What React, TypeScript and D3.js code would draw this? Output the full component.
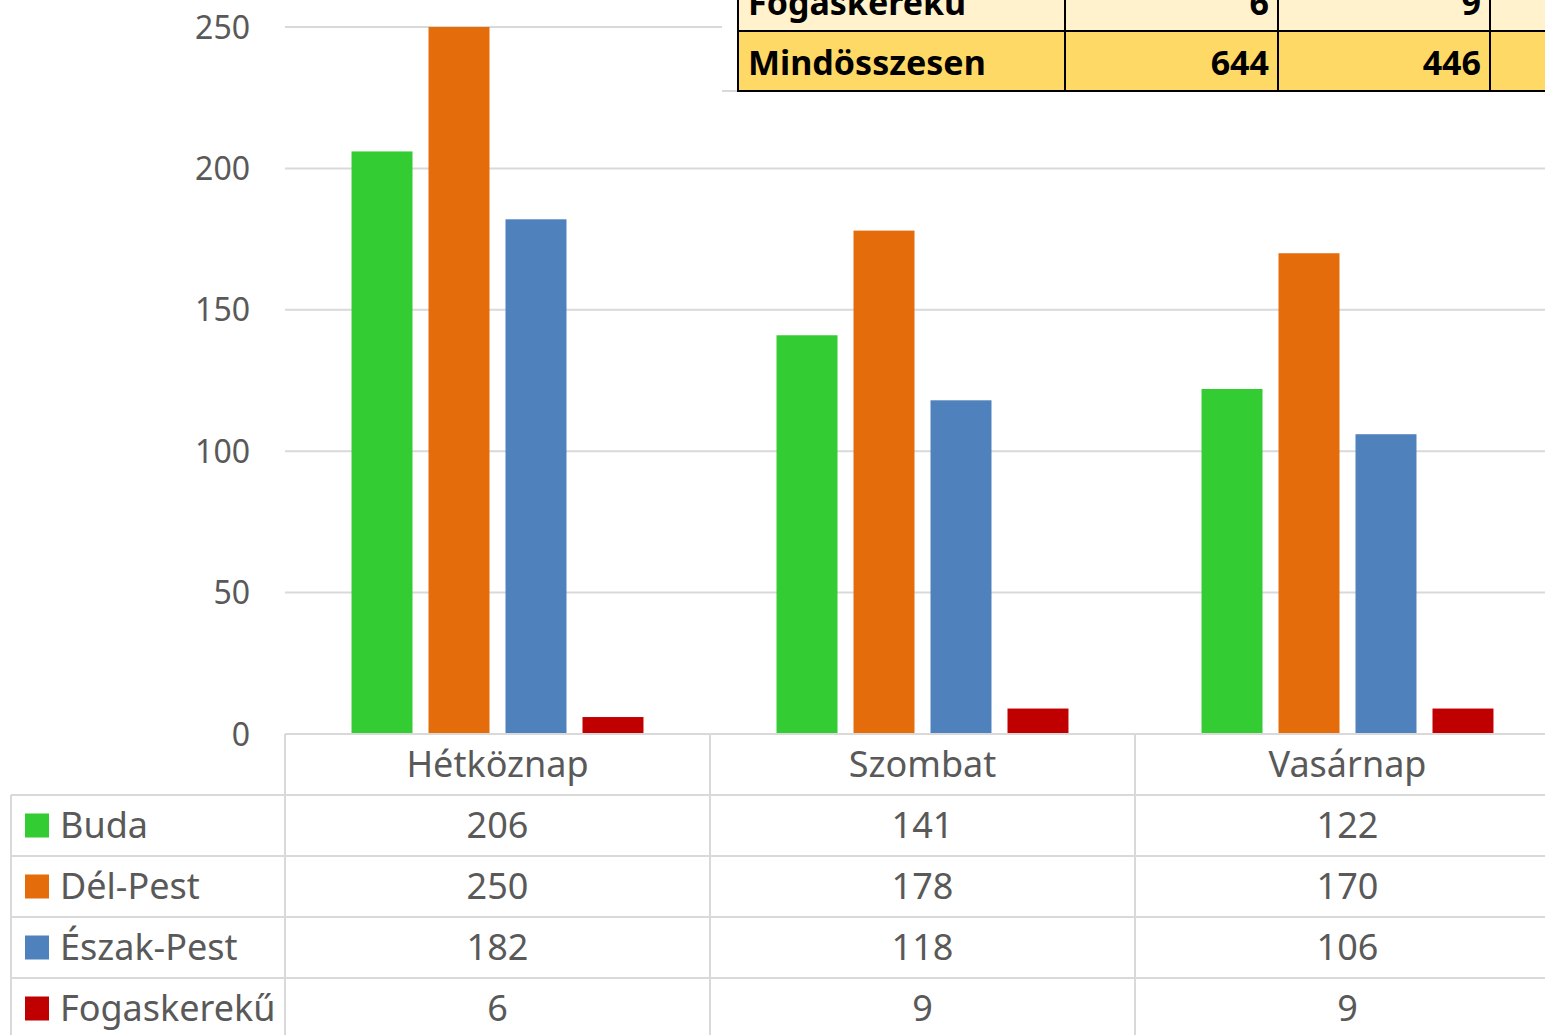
import * as d3 from "d3";

const categories = ["Hétköznap", "Szombat", "Vasárnap"];
const seriesNames = ["Buda", "Dél-Pest", "Észak-Pest", "Fogaskerekű"];
const buda = [206, 141, 122];
const delPest = [250, 178, 170];
const eszakPest = [182, 118, 106];
const fogaskereku = [6, 9, 9];
const yTicks = [0, 50, 100, 150, 200, 250];
const colors = ["#33CC33", "#E46C0A", "#4F81BD", "#C00000"];
// overlapping spreadsheet table at the top right (cut off by the frame, as in the source)
const overlayRows = ["Fogaskerekű", "Mindösszesen"];
const overlayValues = [
  [6, 9],
  [644, 446],
];

const W = 1545;
const H = 1035;
const FONT = "'Noto Sans', sans-serif";
const TEXT = "#595959";
const GRID = "#D9D9D9";

export default function App() {
  const seriesValues = [buda, delPest, eszakPest, fogaskereku];
  const plotLeft = 285;
  const y = d3.scaleLinear().domain([0, 250]).range([734, 27]);
  const x = d3.scaleBand<string>().domain(categories).range([plotLeft, 1560]);
  const x1 = d3
    .scaleBand<string>()
    .domain(seriesNames)
    .range([0, x.bandwidth()])
    .paddingInner(0.208)
    .paddingOuter(0.864);

  const axisY = y(0);
  const rowH = 61;
  const tableTop = axisY + rowH; // first series row
  const rowTops = seriesNames.map((_, i) => tableTop + i * rowH);

  const ovCols = [738, 1065, 1278, 1490];
  const ovRowTops = [-29, 31];
  const ovRowH = 60;

  return (
    <svg
      width={W}
      height={H}
      style={{ position: "absolute", left: 0, top: 0, background: "#fff" }}
      fontFamily={FONT}
    >
      <rect width={W} height={H} fill="#fff" />
      {/* gridlines */}
      {yTicks.map((t) => (
        <line key={t} x1={plotLeft} x2={W} y1={y(t)} y2={y(t)} stroke={GRID} strokeWidth={2} />
      ))}
      {yTicks.map((t) => (
        <text key={"l" + t} x={250} y={y(t)} dy="0.36em" textAnchor="end" fontSize={32} fill={TEXT}>
          {t}
        </text>
      ))}
      {/* bars */}
      {seriesNames.map((s, si) =>
        categories.map((c, ci) => (
          <rect
            key={s + c}
            x={(x(c) as number) + (x1(s) as number)}
            y={y(seriesValues[si][ci])}
            width={x1.bandwidth()}
            height={axisY - y(seriesValues[si][ci])}
            fill={colors[si]}
          />
        ))
      )}
      {/* data table */}
      <line x1={plotLeft} x2={W} y1={axisY} y2={axisY} stroke={GRID} strokeWidth={2} />
      {rowTops.map((rt) => (
        <line key={"h" + rt} x1={11} x2={W} y1={rt} y2={rt} stroke={GRID} strokeWidth={2} />
      ))}
      <line x1={11} x2={11} y1={tableTop} y2={H} stroke={GRID} strokeWidth={2} />
      {categories.map((c) => (
        <line key={"v" + c} x1={x(c)} x2={x(c)} y1={axisY} y2={H} stroke={GRID} strokeWidth={2} />
      ))}
      {categories.map((c) => (
        <text
          key={"c" + c}
          x={(x(c) as number) + x.bandwidth() / 2}
          y={axisY + rowH / 2}
          dy="0.36em"
          textAnchor="middle"
          fontSize={36}
          fill={TEXT}
        >
          {c}
        </text>
      ))}
      {seriesNames.map((s, si) => (
        <g key={"r" + s}>
          <rect x={25} y={rowTops[si] + rowH / 2 - 12} width={24} height={24} fill={colors[si]} />
          <text x={60} y={rowTops[si] + rowH / 2} dy="0.36em" fontSize={36} fill={TEXT}>
            {s}
          </text>
          {categories.map((c, ci) => (
            <text
              key={c}
              x={(x(c) as number) + x.bandwidth() / 2}
              y={rowTops[si] + rowH / 2}
              dy="0.36em"
              textAnchor="middle"
              fontSize={36}
              fill={TEXT}
            >
              {seriesValues[si][ci]}
            </text>
          ))}
        </g>
      ))}
      {/* overlapping worksheet table */}
      <rect x={722} y={0} width={W - 722} height={91} fill="#fff" />
      <line x1={722} x2={W} y1={91} y2={91} stroke={GRID} strokeWidth={2} />
      {overlayRows.map((r, ri) => (
        <g key={"o" + r}>
          <rect
            x={ovCols[0]}
            y={ovRowTops[ri]}
            width={W - ovCols[0] + 10}
            height={ovRowH}
            fill={ri === 0 ? "#FFF2CC" : "#FFD966"}
            stroke="#000"
            strokeWidth={2}
          />
          <text
            x={ovCols[0] + 10}
            y={ovRowTops[ri] + ovRowH / 2 + 2}
            dy="0.36em"
            fontSize={34}
            fontWeight="bold"
            fill="#000"
          >
            {r}
          </text>
          {overlayValues[ri].map((v, vi) => (
            <text
              key={vi}
              x={ovCols[vi + 2] - 9}
              y={ovRowTops[ri] + ovRowH / 2 + 2}
              dy="0.36em"
              textAnchor="end"
              fontSize={34}
              fontWeight="bold"
              fill="#000"
            >
              {v}
            </text>
          ))}
        </g>
      ))}
      {ovCols.slice(1).map((cx) => (
        <line key={"ov" + cx} x1={cx} x2={cx} y1={0} y2={91} stroke="#000" strokeWidth={2} />
      ))}
    </svg>
  );
}
